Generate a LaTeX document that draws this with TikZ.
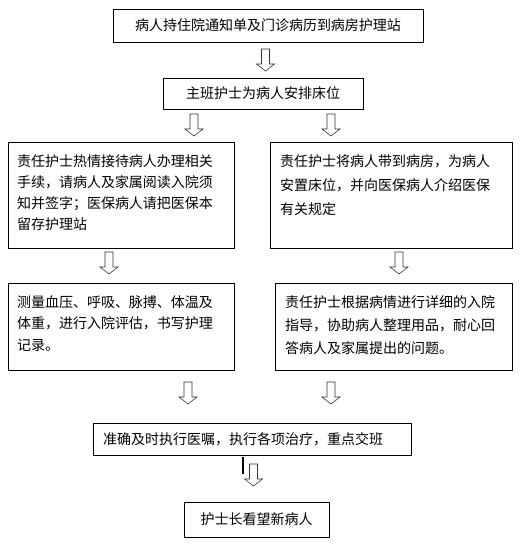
\documentclass[tikz,border=0pt]{standalone}
\usepackage{fontspec}
\newfontfamily\cjk{Noto Sans CJK SC}
\newcommand\fbtxt[4]{\parbox[c][#2][c]{#1}{\setlength\baselineskip{#3}\setlength\lineskiplimit{-30pt}\raggedright #4}}
\tikzset{
  box/.style={draw, line width=0.9pt, inner sep=0pt, font=\cjk\fontsize{14pt}{20pt}\selectfont},
  cbox/.style 2 args={box, minimum width=#1, minimum height=#2},
  lbox/.style={box, inner xsep=9pt, inner ysep=0pt},
  arrowline/.style={draw=black!80, line width=0.6pt, line join=miter},
  pics/harrow/.style={code={
    \draw[arrowline] (-4,0) -- (-4,15) -- (-9,15) -- (0,22) -- (9,15) -- (4,15) -- (4,0) -- cycle;}}
}
\begin{document}
\begin{tikzpicture}[x=1pt,y=-1pt]
\useasboundingbox (0,0) rectangle (521,544);
\node[cbox={310pt}{33pt}] (b1) at (268,25.5) {病人持住院通知单及门诊病历到病房护理站};
\node[cbox={200pt}{31pt}] (b2) at (263,93.5) {主班护士为病人安排床位};
\node[lbox] (b3l) at (121,195) {\fbtxt{208pt}{106pt}{20.8pt}{责任护士热情接待病人办理相关\\手续，请病人及家属阅读入院须\\知并签字；医保病人请把医保本\\留存护理站\par\vspace{5pt}}};
\node[lbox, inner xsep=10pt] (b3r) at (391,195) {\fbtxt{222pt}{106pt}{24pt}{责任护士将病人带到病房，为病人\\安置床位，并向医保病人介绍医保\\有关规定\par\vspace{20pt}}};
\node[lbox] (b4l) at (121,326.5) {\fbtxt{208pt}{87pt}{21.5pt}{测量血压、呼吸、脉搏、体温及\\体重，进行入院评估，书写护理\\记录。\par\vspace{6pt}}};
\node[lbox, inner xsep=10pt] (b4r) at (393.5,326.5) {\fbtxt{217pt}{87pt}{23pt}{责任护士根据病情进行详细的入院\\指导，协助病人整理用品，耐心回\\答病人及家属提出的问题。\par\vspace{3pt}}};
\node[lbox, inner xsep=10pt] (b5) at (252,439) {\fbtxt{298pt}{32pt}{20pt}{准确及时执行医嘱，执行各项治疗，重点交班}};
\node[cbox={145pt}{35pt}] (b6) at (256.5,519.5) {护士长看望新病人};
\pic (a1) at (265.5,49) {harrow};
\pic (a2l) at (194,114) {harrow};
\pic (a2r) at (331,114) {harrow};
\pic (a3l) at (109,252) {harrow};
\pic (a3r) at (399,252) {harrow};
\pic (a4l) at (188,382) {harrow};
\pic (a4r) at (331,382) {harrow};
\pic (a5) at (253.5,464) {harrow};
\coordinate (m1) at (243,457);
\coordinate (m2) at (243,474);
\draw[line width=1.6pt] (m1) -- (m2);
\end{tikzpicture}
\end{document}
